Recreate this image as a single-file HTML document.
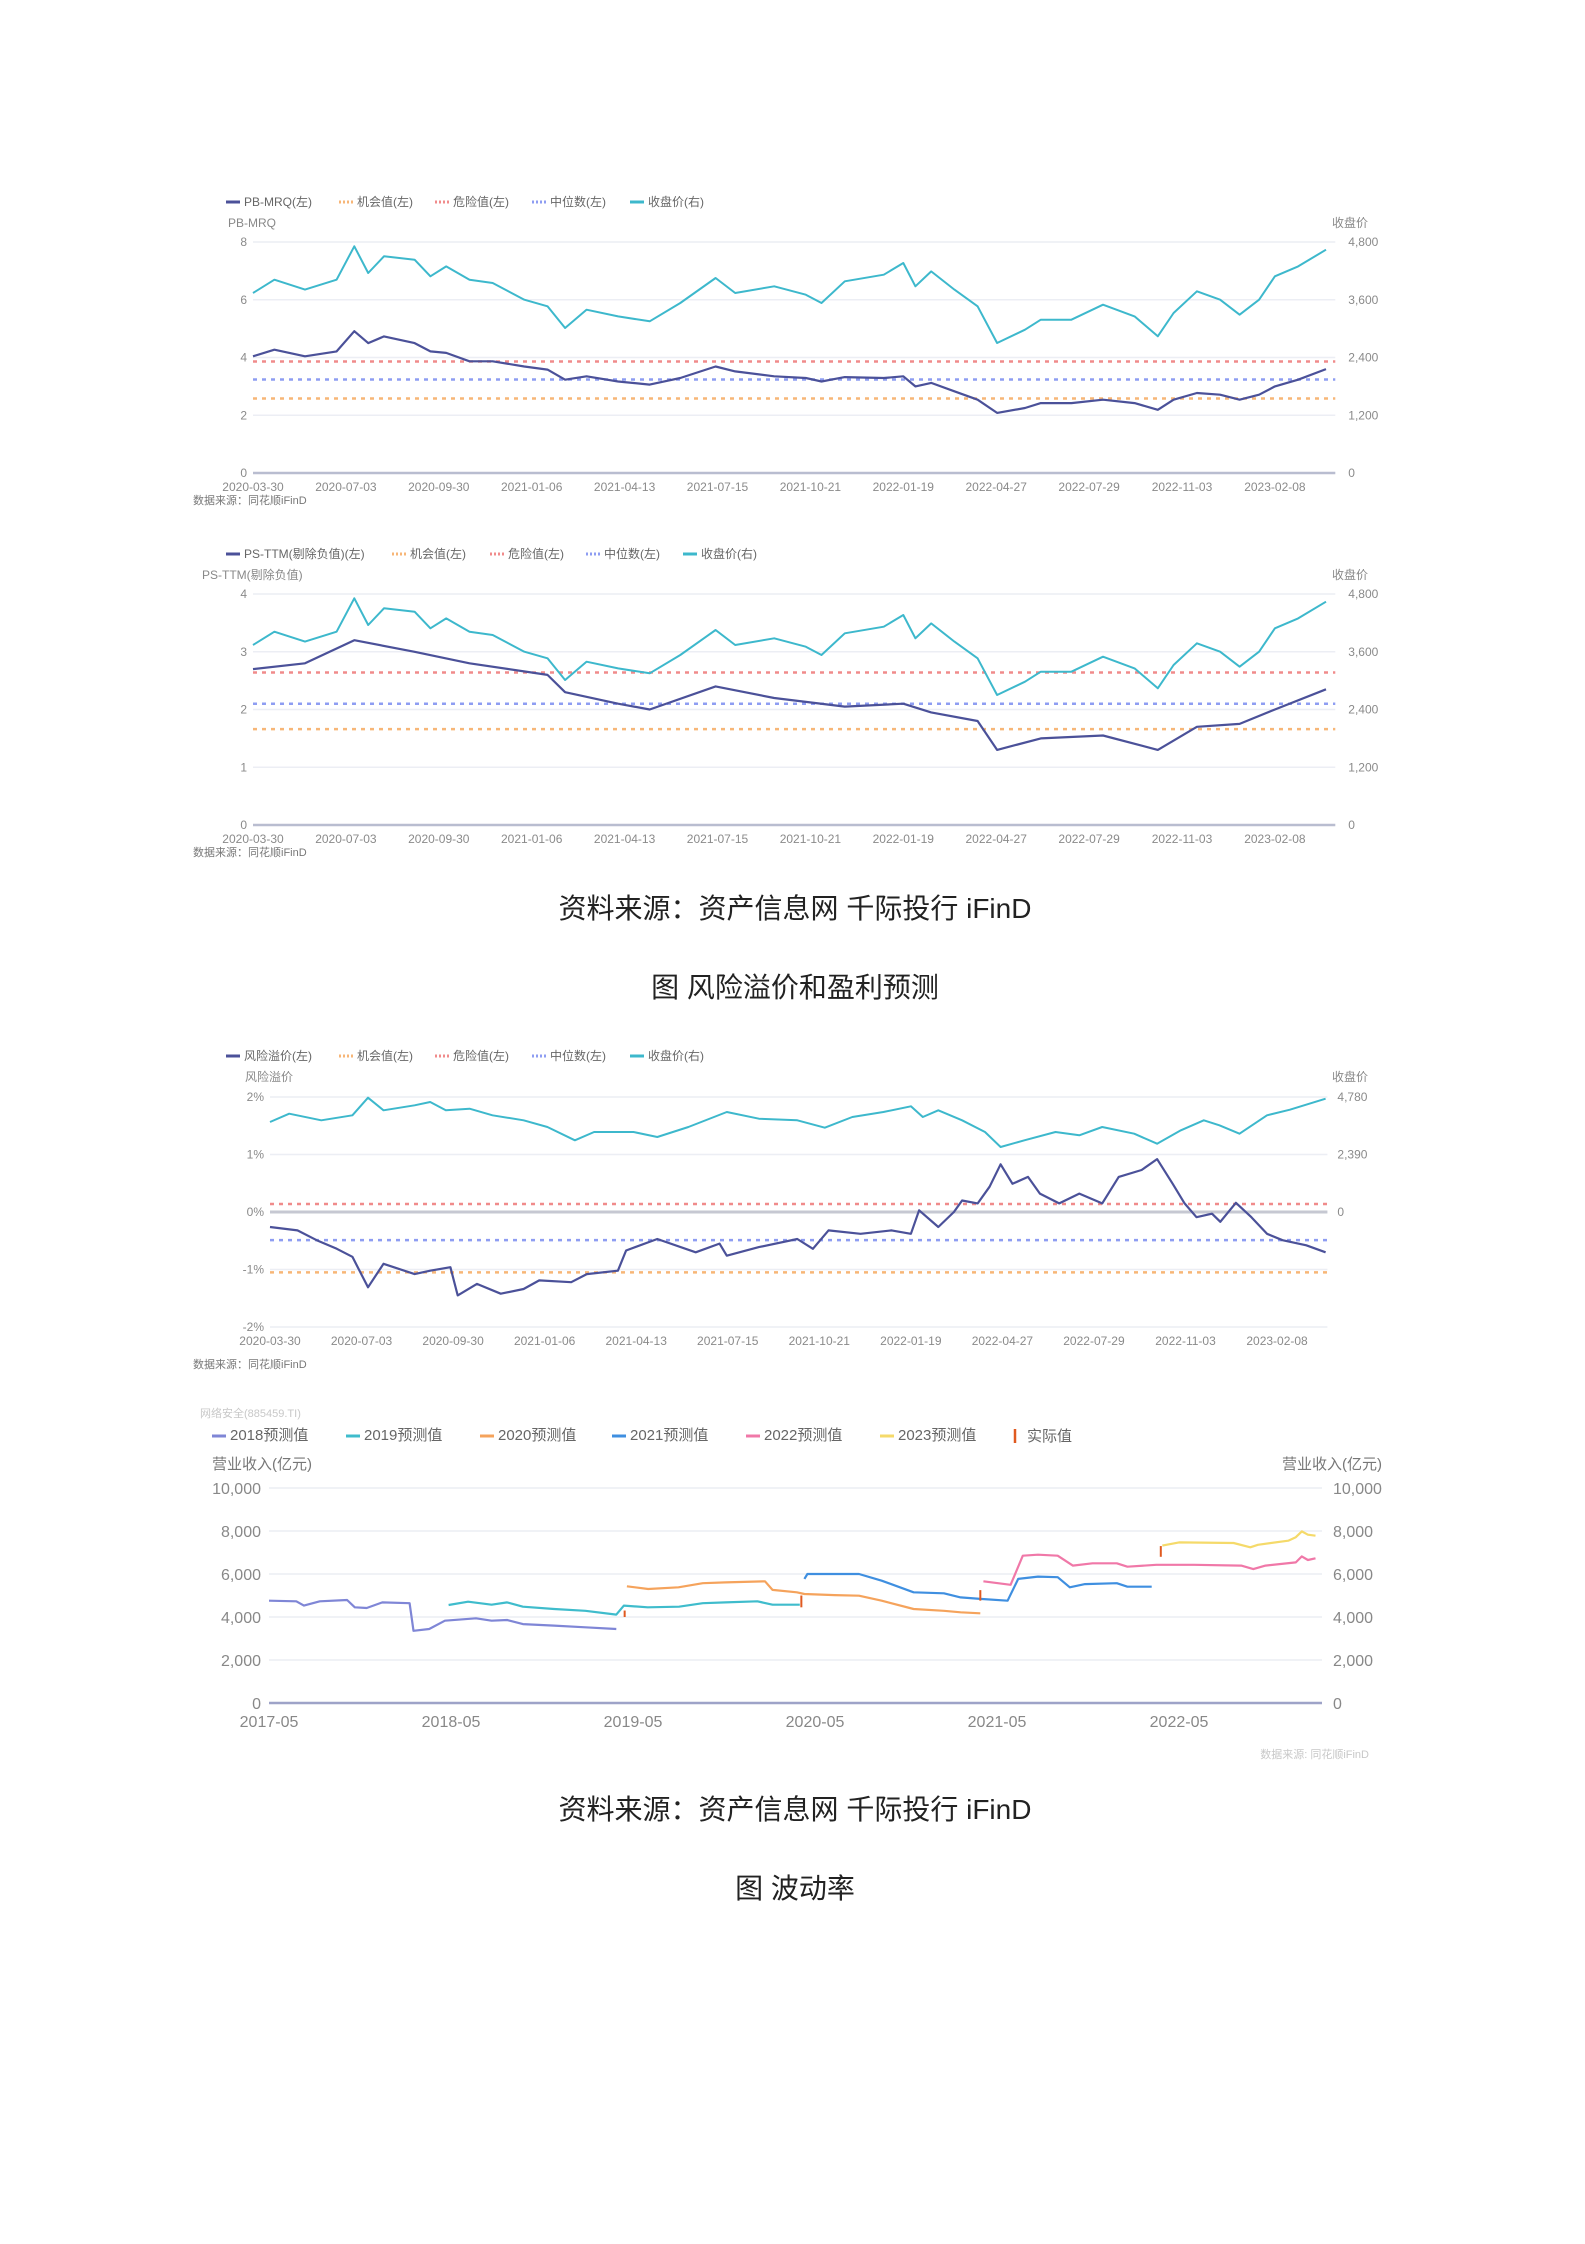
<!DOCTYPE html>
<html><head><meta charset="utf-8">
<style>
html,body{margin:0;padding:0;background:#fff;}
svg{display:block;font-family:"Liberation Sans","Noto Sans CJK SC",sans-serif;}
</style></head>
<body>
<svg id="page" width="1585" height="2244" viewBox="0 0 1585 2244" xmlns="http://www.w3.org/2000/svg">
<text x="795" y="918" text-anchor="middle" font-size="28" fill="#222">资料来源：资产信息网 千际投行 iFinD</text>
<text x="795" y="997" text-anchor="middle" font-size="28" fill="#222">图 风险溢价和盈利预测</text>
<text x="795" y="1819" text-anchor="middle" font-size="28" fill="#222">资料来源：资产信息网 千际投行 iFinD</text>
<text x="795" y="1898" text-anchor="middle" font-size="28" fill="#222">图 波动率</text>
</svg>
<script>
// ---------- Chart 1/2/3 shared time (label-interval units) ----------
const xLabels = ["2020-03-30","2020-07-03","2020-09-30","2021-01-06","2021-04-13","2021-07-15","2021-10-21","2022-01-19","2022-04-27","2022-07-29","2022-11-03","2023-02-08"];
const pbT = [0,.23,.56,.9,1.09,1.24,1.41,1.74,1.91,2.08,2.33,2.58,2.92,3.17,3.36,3.59,3.93,4.27,4.6,4.98,5.19,5.61,5.95,6.12,6.37,6.79,7.0,7.13,7.3,7.55,7.8,8.01,8.31,8.48,8.81,9.15,9.49,9.74,9.91,10.16,10.41,10.62,10.83,11.0,11.25,11.55];
const closePrice = [3740,4017,3810,4017,4710,4156,4502,4433,4087,4294,4017,3948,3602,3463,3013,3394,3255,3152,3532,4052,3740,3879,3705,3532,3983,4121,4364,3879,4190,3810,3463,2701,2978,3186,3186,3498,3255,2840,3325,3775,3602,3290,3602,4087,4294,4641];
const pbMrq = [4.04,4.27,4.04,4.21,4.91,4.5,4.73,4.5,4.21,4.16,3.87,3.87,3.69,3.58,3.23,3.35,3.17,3.06,3.29,3.69,3.52,3.35,3.29,3.17,3.32,3.29,3.35,3.0,3.12,2.83,2.54,2.08,2.25,2.42,2.42,2.54,2.42,2.19,2.54,2.77,2.71,2.54,2.71,3.0,3.23,3.6];
const pbRefs = [2.58,3.86,3.24]; // opportunity, danger, median
const psT = [0,.56,1.09,1.74,2.33,3.17,3.36,3.93,4.27,4.98,5.61,6.37,7.0,7.3,7.8,8.01,8.48,9.15,9.74,10.16,10.62,11.0,11.55];
const psTtm = [2.7,2.8,3.2,3.0,2.8,2.6,2.3,2.1,2.0,2.4,2.2,2.05,2.1,1.95,1.8,1.3,1.5,1.55,1.3,1.7,1.75,2.0,2.35];
const psRefs = [1.66,2.64,2.1];
const rpT = [0,.3,.51,.73,.9,1.07,1.24,1.58,1.75,1.97,2.05,2.26,2.52,2.77,2.94,3.29,3.46,3.8,3.89,4.23,4.65,4.91,4.99,5.34,5.76,5.93,6.1,6.45,6.79,7.0,7.09,7.3,7.47,7.56,7.73,7.86,7.98,8.11,8.28,8.41,8.62,8.84,9.09,9.27,9.52,9.69,9.86,9.99,10.12,10.29,10.38,10.55,10.72,10.89,11.06,11.32,11.53];
const riskPremium = [-.26,-.32,-.49,-.64,-.78,-1.31,-.9,-1.08,-1.02,-.96,-1.45,-1.25,-1.42,-1.34,-1.19,-1.22,-1.08,-1.02,-.67,-.47,-.7,-.55,-.76,-.61,-.47,-.64,-.32,-.38,-.32,-.38,.03,-.26,0,.2,.15,.44,.83,.49,.61,.32,.15,.32,.15,.61,.73,.92,.49,.15,-.09,-.03,-.17,.16,-.09,-.38,-.49,-.58,-.7];
const rpRefs = [-1.05,0.14,-0.49];
const rpCloseT = [0,.21,.56,.9,1.07,1.24,1.58,1.75,1.92,2.18,2.43,2.77,3.03,3.33,3.54,3.97,4.23,4.57,4.99,5.34,5.76,6.06,6.36,6.7,7.0,7.13,7.3,7.56,7.81,7.98,8.24,8.58,8.84,9.09,9.44,9.69,9.95,10.2,10.37,10.59,10.89,11.14,11.53];
const rpClose = [3741,4087,3810,4018,4752,4226,4434,4572,4226,4295,4018,3810,3533,2979,3325,3325,3117,3533,4157,3879,3810,3505,3949,4157,4392,3949,4226,3810,3325,2702,2979,3325,3187,3533,3256,2840,3395,3810,3602,3256,4018,4254,4711];

// ---------- Chart 4 (months since 2017-05) ----------
const yearLabels = ["2017-05","2018-05","2019-05","2020-05","2021-05","2022-05"];
const revTicks = [0,2000,4000,6000,8000,10000];
const f2018M = [0,1.8,2.3,3.35,5.15,5.66,6.44,7.47,9.27,9.53,10.56,11.6,13.65,14.68,15.7,16.74,18.8,20.86,22.9];
const f2018V = [4760,4730,4530,4730,4790,4450,4420,4680,4640,3360,3440,3830,3940,3830,3860,3670,3600,3520,3440];
const f2019M = [11.84,13.13,14.68,15.7,16.74,18.8,20.86,22.9,23.4,24.97,27.03,28.6,30.1,32.2,33.2,35.0];
const f2019V = [4560,4710,4570,4680,4480,4370,4290,4110,4530,4450,4480,4640,4680,4730,4570,4570];
const f2020M = [23.6,25,27,28.6,30.1,32.7,33.2,34.8,35.3,37.3,38.9,40.4,42.5,44.5,45.6,46.9];
const f2020V = [5430,5300,5380,5570,5610,5660,5260,5150,5070,5020,4990,4760,4370,4290,4220,4170];
const f2021M = [35.3,35.5,37.3,38.9,40.4,42.5,44.5,45.6,46.9,48.7,49.4,50.7,52,52.8,53.8,55.9,56.6,58.2];
const f2021V = [5770,6000,6000,6000,5690,5150,5100,4910,4840,4760,5770,5880,5850,5380,5530,5570,5410,5410];
const f2022M = [47.1,48.9,49.7,50.7,52,53,54.3,55.9,56.6,58.5,61,64.1,64.9,65.7,67.7,68.1,68.5,69.0];
const f2022V = [5660,5500,6850,6900,6850,6390,6500,6500,6340,6430,6430,6390,6230,6390,6540,6820,6650,6730];
const f2023M = [58.9,60,63.6,64.7,65.2,67.2,67.7,68.1,68.5,69.0];
const f2023V = [7320,7470,7440,7240,7360,7550,7710,7980,7830,7780];
const actualM = [23.45,35.1,46.9,58.8];
const actualLo = [4000,4450,4760,6800];
const actualHi = [4300,5000,5250,7300];

const NS="http://www.w3.org/2000/svg";
const svg=document.getElementById('page');
function el(tag,attrs,parent,txt){const e=document.createElementNS(NS,tag);for(const k in attrs)e.setAttribute(k,attrs[k]);if(txt!==undefined)e.textContent=txt;(parent||svg).appendChild(e);return e;}
const C={navy:"#4b5199",cyan:"#3db8cc",opp:"#f7b677",danger:"#f08b8b",med:"#8e9df2",grid:"#eceef4",axis:"#b9bdd0",tick:"#8a8a8a"};

function legend(g,x,y,label,color,dashed,fs){
  const it=el('g',{},g);
  
  
  el('line',{x1:x,y1:y,x2:x+14,y2:y,stroke:color,'stroke-width':3,'stroke-dasharray':dashed?'2 2':'none'},it);
  el('text',{x:x+18,y:y+4,'font-size':fs,fill:'#666'},it,label);
}
function poly(g,pts,color,w,name){
  const p=el('polyline',{points:pts.map(q=>q[0].toFixed(1)+','+q[1].toFixed(1)).join(' '),fill:'none',stroke:color,'stroke-width':w,'stroke-linejoin':'round'},g);
  
  
}

function valChart(o){
  const g=el('g',{});
  
  
  const xs=t=>o.x0+t*o.dx;
  const yl=v=>o.yBottom-(v/o.lMax)*(o.yBottom-o.yTop);
  const yr=v=>o.yBottom-(v/o.rMax)*(o.yBottom-o.yTop);
  o.legend.forEach((l,i)=>legend(g,o.legX[i],o.legY,l[0],l[1],l[2],12));
  const at=el('text',{x:o.titleX,y:o.legY+25,'font-size':12,fill:'#888'},g,o.lTitle);
  
  el('text',{x:1368,y:o.legY+25,'font-size':12,fill:'#888','text-anchor':'end'},g,'收盘价');
  const xEnd=o.x0+11.65*o.dx;
  o.lTicks.forEach((v,i)=>{
    const y=yl(v);
    el('line',{x1:o.x0,y1:y,x2:xEnd,y2:y,stroke:C.grid,'stroke-width':1.5},g);
    el('text',{x:o.x0-6,y:y+4,'font-size':12,fill:C.tick,'text-anchor':'end'},g,o.lTickLab[i]);
    el('text',{x:xEnd+13,y:y+4,'font-size':12,fill:C.tick},g,o.rTickLab[i]);
  });
  el('line',{x1:o.x0,y1:yl(o.axisV),x2:xEnd,y2:yl(o.axisV),stroke:C.axis,'stroke-width':2.5},g);
  xLabels.forEach((s,i)=>{const t=el('text',{x:xs(i),y:o.yBottom+18,'font-size':12,fill:C.tick,'text-anchor':'middle'},g,s);});
  el('text',{x:193,y:o.yBottom+31,'font-size':11,fill:'#777'},g,'数据来源：同花顺iFinD');
  const refCols=[C.opp,C.danger,C.med],refNames=['opportunity-line','danger-line','median-line'];
  o.refs.forEach((v,i)=>{const l=el('line',{x1:o.x0,y1:yl(v),x2:xEnd,y2:yl(v),stroke:refCols[i],'stroke-width':2.5,'stroke-dasharray':'4 5'},g);});
  poly(g,o.cT.map((t,i)=>[xs(t),yr(o.cV[i])]),C.cyan,2,'close-price-line');
  poly(g,o.mT.map((t,i)=>[xs(t),yl(o.mV[i])]),C.navy,2.2,o.mName);
}
valChart({name:'pb-mrq-chart',x0:253,dx:92.9,yTop:242,yBottom:473,lMax:8,rMax:4800,axisV:0,
  lTicks:[0,2,4,6,8],lTickLab:['0','2','4','6','8'],rTickLab:['0','1,200','2,400','3,600','4,800'],
  legY:202,legX:[226,339,435,532,630],titleX:228,lTitle:'PB-MRQ',
  legend:[['PB-MRQ(左)',C.navy,false],['机会值(左)',C.opp,true],['危险值(左)',C.danger,true],['中位数(左)',C.med,true],['收盘价(右)',C.cyan,false]],
  refs:pbRefs,cT:pbT,cV:closePrice,mT:pbT,mV:pbMrq,mName:'pb-mrq-line'});
valChart({name:'ps-ttm-chart',x0:253,dx:92.9,yTop:594,yBottom:825,lMax:4,rMax:4800,axisV:0,
  lTicks:[0,1,2,3,4],lTickLab:['0','1','2','3','4'],rTickLab:['0','1,200','2,400','3,600','4,800'],
  legY:554,legX:[226,392,490,586,683],titleX:202,lTitle:'PS-TTM(剔除负值)',
  legend:[['PS-TTM(剔除负值)(左)',C.navy,false],['机会值(左)',C.opp,true],['危险值(左)',C.danger,true],['中位数(左)',C.med,true],['收盘价(右)',C.cyan,false]],
  refs:psRefs,cT:pbT,cV:closePrice,mT:psT,mV:psTtm,mName:'ps-ttm-line'});

(function(){
  const g=el('g',{});
  
  
  const x0=270,dx=91.55,xEnd=x0+11.55*dx,y0=1212;
  const xs=t=>x0+t*dx, yl=v=>y0-v*57.5, yr=v=>y0-v/4780*115;
  const lg=[['风险溢价(左)',C.navy,false],['机会值(左)',C.opp,true],['危险值(左)',C.danger,true],['中位数(左)',C.med,true],['收盘价(右)',C.cyan,false]];
  const lx=[226,339,435,532,630];
  lg.forEach((l,i)=>legend(g,lx[i],1056,l[0],l[1],l[2],12));
  el('text',{x:245,y:1081,'font-size':12,fill:'#888'},g,'风险溢价');
  el('text',{x:1368,y:1081,'font-size':12,fill:'#888','text-anchor':'end'},g,'收盘价');
  const lt=[2,1,0,-1,-2],ll=['2%','1%','0%','-1%','-2%'],rl=['4,780','2,390','0','',''];
  lt.forEach((v,i)=>{const y=yl(v);
    el('line',{x1:x0,y1:y,x2:xEnd,y2:y,stroke:C.grid,'stroke-width':1.5},g);
    el('text',{x:x0-6,y:y+4,'font-size':12,fill:C.tick,'text-anchor':'end'},g,ll[i]);
    if(rl[i])el('text',{x:xEnd+10,y:y+4,'font-size':12,fill:C.tick},g,rl[i]);});
  el('line',{x1:x0,y1:y0,x2:xEnd,y2:y0,stroke:"#c6c8d2",'stroke-width':3},g);
  xLabels.forEach((s,i)=>{const t=el('text',{x:xs(i),y:1345,'font-size':12,fill:C.tick,'text-anchor':'middle'},g,s);});
  el('text',{x:193,y:1368,'font-size':11,fill:'#777'},g,'数据来源：同花顺iFinD');
  const rc=[C.opp,C.danger,C.med];
  rpRefs.forEach((v,i)=>el('line',{x1:x0,y1:yl(v),x2:xEnd,y2:yl(v),stroke:rc[i],'stroke-width':2.5,'stroke-dasharray':'4 5'},g));
  poly(g,rpCloseT.map((t,i)=>[xs(t),yr(rpClose[i])]),C.cyan,2,'close-price-line');
  poly(g,rpT.map((t,i)=>[xs(t),yl(riskPremium[i])]),C.navy,2.2,'risk-premium-line');
})();

(function(){
  const g=el('g',{});
  
  
  const x0=269,dxm=182/12,xEnd=1322,yB=1703;
  const xs=m=>x0+m*dxm, ys=v=>yB-v/10000*215;
  el('text',{x:200,y:1417,'font-size':11,fill:'#c8c8c8'},g,'网络安全(885459.TI)');
  const cols=["#7f86d6","#3fbccc","#f5a35c","#3f8fe0","#f078a8","#f5da6a"];
  const names=['2018预测值','2019预测值','2020预测值','2021预测值','2022预测值','2023预测值'];
  const lx=[212,346,480,612,746,880];
  names.forEach((n,i)=>legend(g,lx[i],1436,n,cols[i],false,15));
  const ae=el('g',{},g);
  
  
  el('line',{x1:1015,y1:1429,x2:1015,y2:1443,stroke:'#e05a20','stroke-width':2.5},ae);
  el('text',{x:1027,y:1441,'font-size':15,fill:'#666'},ae,'实际值');
  el('text',{x:212,y:1469,'font-size':15,fill:'#777'},g,'营业收入(亿元)');
  el('text',{x:1382,y:1469,'font-size':15,fill:'#777','text-anchor':'end'},g,'营业收入(亿元)');
  revTicks.forEach(v=>{const y=ys(v),lab=v.toLocaleString('en-US');
    el('line',{x1:x0,y1:y,x2:xEnd,y2:y,stroke:C.grid,'stroke-width':1.5},g);
    el('text',{x:261,y:y+6,'font-size':16,fill:'#888','text-anchor':'end'},g,lab);
    el('text',{x:1333,y:y+6,'font-size':16,fill:'#888'},g,lab);});
  el('line',{x1:x0,y1:yB,x2:xEnd,y2:yB,stroke:"#9ea3c8",'stroke-width':2.5},g);
  yearLabels.forEach((s,i)=>{const t=el('text',{x:xs(i*12),y:1727,'font-size':16,fill:'#888','text-anchor':'middle'},g,s);});
  el('text',{x:1369,y:1758,'font-size':11,fill:'#c8c8c8','text-anchor':'end'},g,'数据来源: 同花顺iFinD');
  const S=[[f2018M,f2018V],[f2019M,f2019V],[f2020M,f2020V],[f2021M,f2021V],[f2022M,f2022V],[f2023M,f2023V]];
  S.forEach((s,i)=>poly(g,s[0].map((m,j)=>[xs(m),ys(s[1][j])]),cols[i],2.2,'forecast-'+(2018+i)+'-line'));
  actualM.forEach((m,i)=>{const l=el('line',{x1:xs(m),y1:ys(actualLo[i]),x2:xs(m),y2:ys(actualHi[i]),stroke:'#e05a20','stroke-width':2},g);
    });
})();
</script>
</body></html>
